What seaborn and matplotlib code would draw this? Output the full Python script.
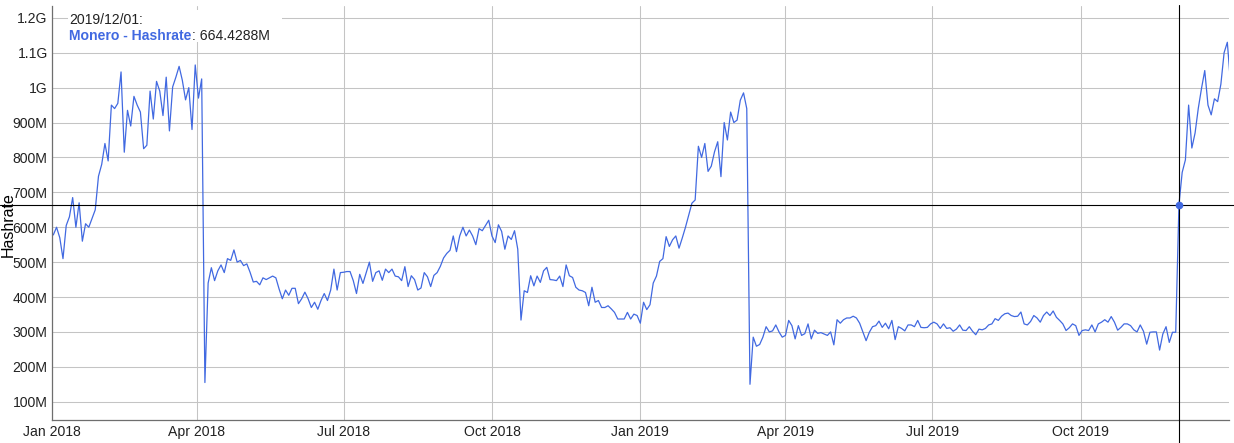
import pandas as pd
import seaborn as sns
import matplotlib.pyplot as plt
import matplotlib.dates as mdates
from matplotlib.patches import Rectangle

# Monero hashrate in MH/s, one reading every second day starting 2018-01-02
q1_2018 = [578, 600, 570, 510, 605, 630, 685, 600, 670, 560,
           610, 600, 625, 650, 746, 780, 840, 790, 950, 940,
           955, 1045, 815, 935, 890, 975, 950, 930, 825, 835,
           990, 910, 1018, 990, 920, 1030, 876, 1002, 1030, 1061,
           1021, 965, 1000, 880, 1065]
q2_2018 = [970, 1025, 155, 440, 484, 447, 475, 492, 470, 510,
           505, 535, 500, 505, 490, 495, 471, 443, 445, 435,
           455, 450, 455, 460, 455, 423, 395, 420, 405, 425,
           425, 381, 395, 414, 395, 370, 385, 365, 390, 410,
           390, 420, 480, 420, 470]
q3_2018 = [471, 473, 473, 447, 410, 465, 439, 470, 500, 445,
           470, 475, 448, 480, 470, 480, 460, 458, 447, 487,
           430, 461, 450, 420, 426, 470, 458, 430, 462, 470,
           488, 512, 525, 534, 575, 530, 575, 600, 575, 592,
           575, 550, 596, 590, 605, 620]
q4_2018 = [575, 556, 607, 588, 537, 575, 565, 590, 537, 334,
           418, 413, 461, 432, 460, 442, 475, 485, 450, 449,
           447, 460, 430, 492, 461, 456, 428, 420, 418, 413,
           375, 428, 385, 390, 370, 370, 375, 366, 356, 337,
           337, 337, 356, 337, 351, 347]
q1_2019 = [325, 385, 364, 378, 440, 460, 502, 510, 573, 545,
           564, 575, 540, 569, 600, 635, 669, 678, 832, 800,
           840, 760, 775, 816, 845, 745, 900, 850, 930, 900,
           907, 964, 985, 940, 150, 285, 259, 264, 285, 315,
           300, 303, 320, 300, 285]
q2_2019 = [290, 333, 318, 280, 318, 290, 295, 323, 280, 305,
           296, 298, 294, 290, 300, 263, 335, 325, 335, 340,
           340, 345, 340, 325, 300, 275, 299, 315, 318, 331,
           313, 325, 309, 333, 278, 315, 310, 303, 320, 320,
           315, 333, 313, 312, 313, 323]
q3_2019 = [328, 323, 310, 323, 310, 312, 302, 308, 320, 305,
           304, 315, 302, 292, 308, 306, 310, 320, 323, 338,
           333, 345, 352, 354, 347, 344, 345, 357, 323, 320,
           330, 347, 340, 328, 347, 357, 347, 360, 342, 333,
           323, 304, 312, 323, 318, 290]
q4_2019 = [304, 306, 304, 320, 300, 323, 328, 335, 328, 344,
           328, 305, 313, 323, 323, 318, 306, 300, 320, 302,
           265, 299, 300, 300, 248, 294, 315, 270, 299, 299,
           664.4288, 757, 793, 950, 827, 870, 941, 998, 1049, 950,
           922, 968, 960, 1010, 1100, 1130, 1012]

tick_dates = ["2018-01-01", "2018-04-01", "2018-07-01", "2018-10-01",
              "2019-01-01", "2019-04-01", "2019-07-01", "2019-10-01"]
y_ticks = [100, 200, 300, 400, 500, 600, 700, 800, 900, 1000, 1100, 1200]

cross_date = "2019-12-01"
cross_value = 664.4288

hashrate = q1_2018 + q2_2018 + q3_2018 + q4_2018 + q1_2019 + q2_2019 + q3_2019 + q4_2019
dates = pd.date_range("2018-01-02", periods=len(hashrate), freq="2D")
df = pd.DataFrame({"date": dates, "hashrate": hashrate})

sns.set_style("white")
plt.rcParams["font.family"] = ["Liberation Sans", "DejaVu Sans"]

blue = "#4169e1"
text_col = "#222222"

fig = plt.figure(figsize=(12.34, 4.43), dpi=100)
ax = fig.add_axes([0.0419, 0.0519, 0.954, 0.9346])

sns.lineplot(data=df, x="date", y="hashrate", color=blue, linewidth=0.9, errorbar=None, ax=ax)

ax.set_xlim(pd.Timestamp("2018-01-01"), pd.Timestamp("2020-01-01"))
ax.set_ylim(47.6, 1234)

ax.set_xticks(pd.to_datetime(tick_dates))
ax.xaxis.set_major_formatter(mdates.DateFormatter("%b %Y"))
ax.set_yticks(y_ticks)
ax.set_yticklabels([f"{v}M" if v < 1000 else f"{v / 1000:g}G" for v in y_ticks])

ax.grid(True, color="#c4c4c4", linewidth=0.75)
ax.set_axisbelow(True)
ax.tick_params(axis="x", length=0, pad=3.6, labelsize=10.1, colors=text_col)
ax.tick_params(axis="y", length=0, pad=2.9, labelsize=10.1, colors=text_col)

sns.despine(ax=ax)
for side in ["left", "bottom"]:
    ax.spines[side].set_color("#6e6e6e")
    ax.spines[side].set_linewidth(0.9)

ax.set_xlabel("")
ax.set_ylabel("Hashrate", fontsize=11.5, color="black")
ax.yaxis.set_label_coords(-0.0302, 0.471)

# crosshair at the selected point
ax.axvline(pd.Timestamp(cross_date), ymin=-0.0556, ymax=1.002, color="black",
           linewidth=0.8, clip_on=False, zorder=5)
ax.axhline(cross_value, xmin=-0.044, xmax=1.005, color="black",
           linewidth=0.8, clip_on=False, zorder=5)
ax.plot([pd.Timestamp(cross_date)], [cross_value], "o", ms=4.5, color=blue, zorder=6)

# legend box like the hover readout
ax.add_patch(Rectangle((0.0138, 0.913), 0.182, 0.077, transform=ax.transAxes,
                       facecolor="white", edgecolor="none", zorder=3))
ax.text(0.0149, 0.9565, pd.Timestamp(cross_date).strftime("%Y/%m/%d") + ":",
        transform=ax.transAxes, fontsize=10.1, color=text_col, va="baseline", zorder=4)
t2 = ax.text(0.0149, 0.918, "Monero - Hashrate", transform=ax.transAxes, fontsize=10.1,
             color=blue, fontweight="bold", va="baseline", zorder=4)
ax.annotate(f": {cross_value:.4f}M", xy=(1, 0), xycoords=t2, va="bottom", ha="left",
            fontsize=10.1, color=text_col, zorder=4)

fig.savefig("out.png", dpi=100)
